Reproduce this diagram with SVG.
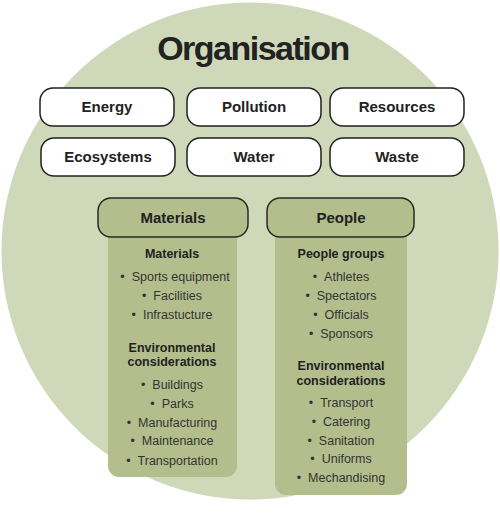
<svg xmlns="http://www.w3.org/2000/svg" width="500" height="519" viewBox="0 0 500 519">
<style>
.box{fill:#fff;stroke:#222;stroke-width:1.5}
.hdr{fill:#b3be8c;stroke:#2a2a22;stroke-width:1.5}
.body{fill:#b3be8c}
.lbl{font-family:"Liberation Sans",Arial,sans-serif;font-weight:bold;font-size:15px;fill:#222;text-anchor:middle}
.sub{font-family:"Liberation Sans",Arial,sans-serif;font-weight:bold;font-size:12.5px;fill:#222;text-anchor:middle}
.item{font-family:"Liberation Sans",Arial,sans-serif;font-size:12.5px;fill:#333;text-anchor:middle;white-space:pre}
</style>
<rect width="500" height="519" fill="#fff"/>
<circle id="organisation" cx="250" cy="251" r="248.5" fill="#cfd8b8"/>
<text x="253" y="60" font-family="Liberation Sans,Arial,sans-serif" font-weight="bold" font-size="34" letter-spacing="-1.5" fill="#222" text-anchor="middle">Organisation</text>
<g id="energy"><rect class="box" x="40" y="88" width="134" height="38" rx="13"/><text class="lbl" x="107" y="112">Energy</text></g>
<g id="pollution"><rect class="box" x="187" y="88" width="134" height="38" rx="13"/><text class="lbl" x="254" y="112">Pollution</text></g>
<g id="resources"><rect class="box" x="330" y="88" width="134" height="38" rx="13"/><text class="lbl" x="397" y="112">Resources</text></g>
<g id="ecosystems"><rect class="box" x="41" y="138" width="134" height="38" rx="13"/><text class="lbl" x="108" y="162">Ecosystems</text></g>
<g id="water"><rect class="box" x="187" y="138" width="134" height="38" rx="13"/><text class="lbl" x="254" y="162">Water</text></g>
<g id="waste"><rect class="box" x="330" y="138" width="134" height="38" rx="13"/><text class="lbl" x="397" y="162">Waste</text></g>
<g id="materials">
<path class="body" d="M108 230 H237 V466 a11 11 0 0 1 -11 11 H119 a11 11 0 0 1 -11 -11 Z"/>
<rect class="hdr" x="98" y="198" width="150" height="39" rx="13"/>
<text class="lbl" x="173" y="223">Materials</text>
<text class="sub" x="172" y="258">Materials</text>
<text class="item" x="175" y="281">•&#160;&#160;Sports equipment</text>
<text class="item" x="172" y="300">•&#160;&#160;Facilities</text>
<text class="item" x="172" y="319">•&#160;&#160;Infrastucture</text>
<text class="sub" x="172" y="352">Environmental</text>
<text class="sub" x="172" y="366">considerations</text>
<text class="item" x="172" y="389">•&#160;&#160;Buildings</text>
<text class="item" x="172" y="408">•&#160;&#160;Parks</text>
<text class="item" x="172" y="427">•&#160;&#160;Manufacturing</text>
<text class="item" x="172" y="445">•&#160;&#160;Maintenance</text>
<text class="item" x="172" y="465">•&#160;&#160;Transportation</text>
</g>
<g id="people">
<path class="body" d="M275 230 H407 V484 a11 11 0 0 1 -11 11 H286 a11 11 0 0 1 -11 -11 Z"/>
<rect class="hdr" x="267" y="198" width="147" height="39" rx="13"/>
<text class="lbl" x="341" y="223">People</text>
<text class="sub" x="341" y="258">People groups</text>
<text class="item" x="341" y="281">•&#160;&#160;Athletes</text>
<text class="item" x="341" y="300">•&#160;&#160;Spectators</text>
<text class="item" x="341" y="319">•&#160;&#160;Officials</text>
<text class="item" x="341" y="338">•&#160;&#160;Sponsors</text>
<text class="sub" x="341" y="370">Environmental</text>
<text class="sub" x="341" y="385">considerations</text>
<text class="item" x="341" y="407">•&#160;&#160;Transport</text>
<text class="item" x="341" y="426">•&#160;&#160;Catering</text>
<text class="item" x="341" y="445">•&#160;&#160;Sanitation</text>
<text class="item" x="341" y="463">•&#160;&#160;Uniforms</text>
<text class="item" x="341" y="482">•&#160;&#160;Mechandising</text>
</g>
<g id="connectors"/>
</svg>
